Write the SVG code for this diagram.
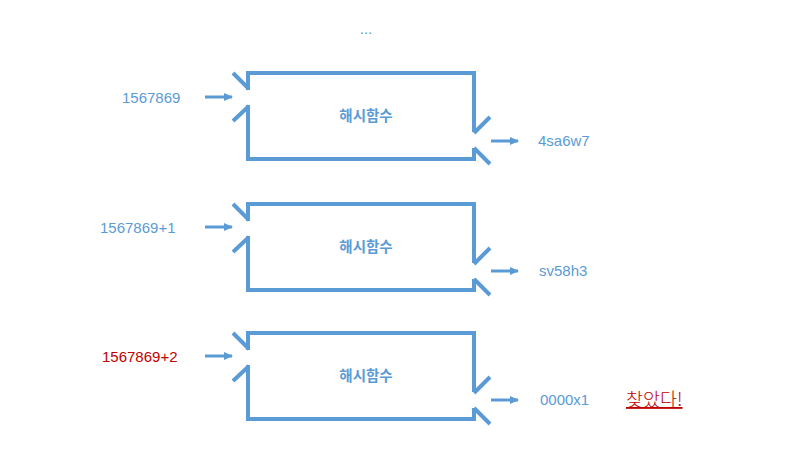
<svg xmlns="http://www.w3.org/2000/svg" xmlns:xlink="http://www.w3.org/1999/xlink" width="800" height="450" viewBox="0 0 800 450">
<style>
.box{fill:none;stroke:#5B9BD5;stroke-width:4;stroke-linejoin:miter;stroke-linecap:butt}
.conn{fill:none;stroke:#5B9BD5;stroke-width:3}
.lbl{font-family:"Liberation Sans","Noto Sans CJK KR",sans-serif;font-size:15px;fill:#5B9BD5}
.fn{font-family:"Noto Sans CJK KR",sans-serif;font-size:14.5px;font-weight:bold;fill:#5B9BD5;text-anchor:middle}
.red{fill:#C00000}
</style>
<defs>
<marker id="ah" markerWidth="10" markerHeight="10" refX="8" refY="4" orient="auto" markerUnits="userSpaceOnUse" viewBox="0 0 10 8">
<path d="M0,0 L9,4 L0,8 Z" fill="#5B9BD5"/>
</marker>
<path id="hash" class="box" d="M248,90 V73 H474 V132 M474,148 V159 H248 V105 M233,73 L249,89 M233,121 L249,106 M474,133 L490,117 M474,148 L490,164"/>
</defs>
<text class="lbl" x="366" y="34" text-anchor="middle" font-size="12">...</text>
<g id="node1">
<use xlink:href="#hash"/>
<text class="fn" x="366" y="121">해시함수</text>
</g>
<g id="node2" transform="translate(0,131)">
<use xlink:href="#hash"/>
<text class="fn" x="366" y="121">해시함수</text>
</g>
<g id="node3" transform="translate(0,260)">
<use xlink:href="#hash"/>
<text class="fn" x="366" y="121">해시함수</text>
</g>
<g id="in1"><text class="lbl" x="122" y="103">1567869</text></g>
<g id="in2"><text class="lbl" x="100" y="233">1567869+1</text></g>
<g id="in3"><text class="lbl red" x="102" y="362">1567869+2</text></g>
<g id="out1"><text class="lbl" x="538" y="146">4sa6w7</text></g>
<g id="out2"><text class="lbl" x="539" y="276">sv58h3</text></g>
<g id="out3"><text class="lbl" x="540" y="405">0000x1</text></g>
<g id="found"><text x="626" y="406" font-family="'Noto Sans CJK KR',sans-serif" font-size="18.5" font-weight="300" fill="#C00000" text-decoration="underline">찾았다!</text></g>
<g id="connectors">
<line class="conn" x1="205" y1="97" x2="232" y2="97" marker-end="url(#ah)"/>
<line class="conn" x1="491" y1="141" x2="518" y2="141" marker-end="url(#ah)"/>
<line class="conn" x1="205" y1="227" x2="232" y2="227" marker-end="url(#ah)"/>
<line class="conn" x1="491" y1="271" x2="518" y2="271" marker-end="url(#ah)"/>
<line class="conn" x1="205" y1="356" x2="232" y2="356" marker-end="url(#ah)"/>
<line class="conn" x1="491" y1="400" x2="518" y2="400" marker-end="url(#ah)"/>
</g>
</svg>
